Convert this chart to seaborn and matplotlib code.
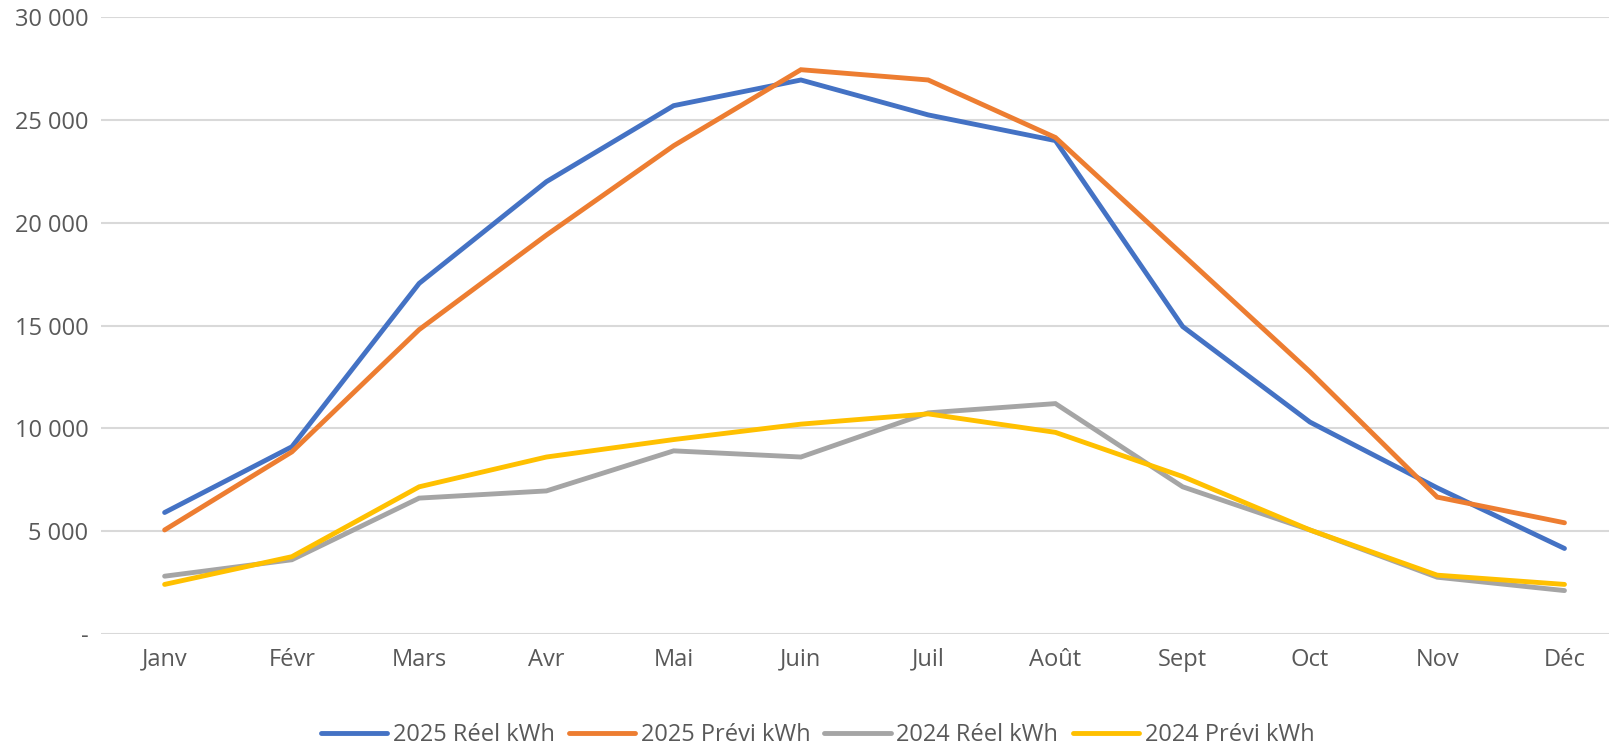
import pandas as pd
import seaborn as sns
import matplotlib.pyplot as plt
from matplotlib.ticker import FuncFormatter

mois = ['Janv', 'Févr', 'Mars', 'Avr', 'Mai', 'Juin', 'Juil', 'Août', 'Sept', 'Oct', 'Nov', 'Déc']

reel_2025 = [5900, 9100, 17050, 22000, 25700, 26950, 25250, 24000, 14950, 10300, 7100, 4150]
previ_2025 = [5050, 8850, 14800, 19400, 23750, 27450, 26950, 24150, 18450, 12750, 6650, 5400]
reel_2024 = [2800, 3600, 6600, 6950, 8900, 8600, 10750, 11200, 7150, 5050, 2750, 2100]
previ_2024 = [2400, 3750, 7150, 8600, 9450, 10200, 10700, 9800, 7650, 5050, 2850, 2400]

series = ['2025 Réel kWh', '2025 Prévi kWh', '2024 Réel kWh', '2024 Prévi kWh']
couleurs = ['#4472C4', '#ED7D31', '#A5A5A5', '#FFC000']

# format long pour seaborn
df = pd.concat([
    pd.DataFrame({'Mois': mois, 'kWh': vals, 'Serie': nom})
    for nom, vals in zip(series, [reel_2025, previ_2025, reel_2024, previ_2024])
], ignore_index=True)
df['x'] = df['Mois'].map({m: i for i, m in enumerate(mois)})

sns.set_style('white')
plt.rcParams['font.family'] = ['Open Sans', 'DejaVu Sans']

fig = plt.figure(figsize=(16.09, 7.46), dpi=100)
ax = fig.add_axes([101 / 1609, 0.1505, 1 - 101 / 1609, 0.9768 - 0.1505])

sns.lineplot(data=df, x='x', y='kWh', hue='Serie', hue_order=series,
             palette=couleurs, linewidth=3.5, sort=False, ax=ax,
             solid_capstyle='round', solid_joinstyle='miter')

ax.set_ylim(0, 30000)
ax.set_xlim(-0.5, 11.35)
ax.set_yticks(range(0, 30001, 5000))
ax.yaxis.set_major_formatter(FuncFormatter(
    lambda v, p: '-' if v == 0 else f'{int(v):,}'.replace(',', ' ')))
ax.set_xticks(range(len(mois)))
ax.set_xticklabels(mois)
ax.grid(axis='y', color='#D9D9D9', linewidth=1.5)
ax.set_axisbelow(True)
for s in ax.spines.values():
    s.set_visible(False)
ax.tick_params(axis='y', length=0, pad=9, labelsize=17, labelcolor='#595959')
ax.tick_params(axis='x', length=0, pad=10, labelsize=17, labelcolor='#595959')
ax.set_xlabel('')
ax.set_ylabel('')

ax.legend_.remove()
handles, labels = ax.get_legend_handles_labels()
fig.legend(handles, labels, loc='lower center', bbox_to_anchor=(0.508, -0.03),
           ncol=4, frameon=False, fontsize=17, labelcolor='#595959',
           handlelength=2.8, handletextpad=0.25, columnspacing=0.6)

fig.savefig('out.png', dpi=100)
